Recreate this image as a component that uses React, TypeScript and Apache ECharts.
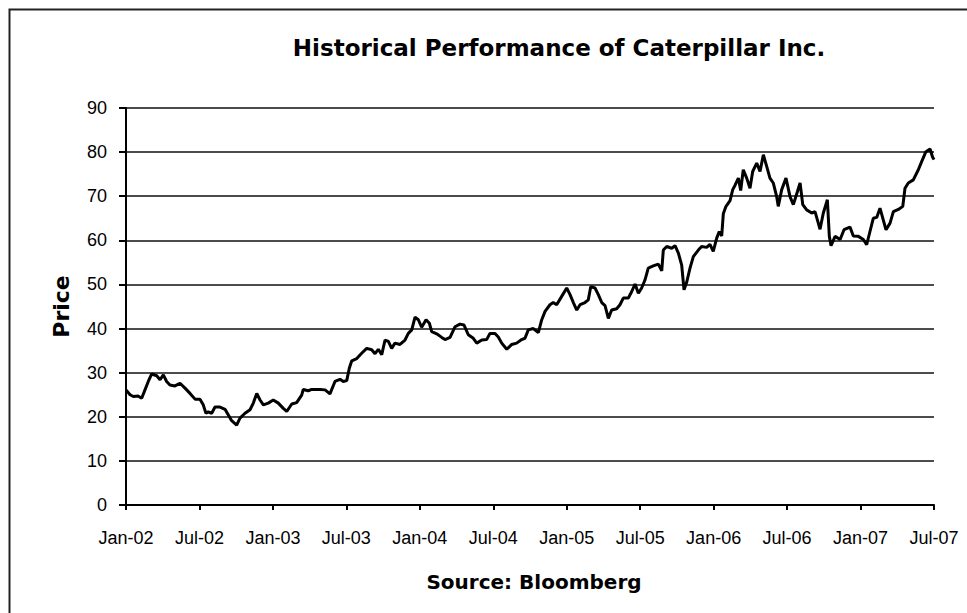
import React, { useEffect, useRef } from "react";
import * as echarts from "echarts";

// x = months since Jan-02, y = price
const months = [
  0.0, 0.33, 0.6, 0.98, 1.28, 1.55, 1.82, 2.1, 2.51, 2.78, 3.05, 3.32, 3.59, 4.0, 4.41, 4.82, 5.23, 5.64,
  6.04, 6.31, 6.53, 6.72, 7.0, 7.27, 7.68, 8.09, 8.36, 8.63, 9.04, 9.31, 9.72, 10.13, 10.4, 10.68, 10.95,
  11.22, 11.62, 12.03, 12.44, 12.85, 13.13, 13.54, 13.94, 14.35, 14.48, 14.89, 15.17, 15.85, 16.26,
  16.66, 17.07, 17.48, 17.75, 18.03, 18.24, 18.44, 18.85, 19.25, 19.66, 20.07, 20.34, 20.61, 20.89,
  21.16, 21.43, 21.7, 21.97, 22.38, 22.79, 23.06, 23.34, 23.61, 23.88, 24.15, 24.51, 24.78, 24.97,
  25.38, 25.79, 26.06, 26.47, 26.87, 27.28, 27.61, 27.96, 28.37, 28.65, 29.06, 29.46, 29.73, 30.14,
  30.41, 30.69, 31.1, 31.51, 31.91, 32.32,
  32.59, 32.86, 33.27, 33.68, 33.96, 34.23, 34.63, 34.9, 35.18, 35.59, 36.0, 36.27, 36.54, 36.82,
  37.09, 37.49, 37.76, 37.96, 38.31, 38.58, 38.86, 39.13, 39.4, 39.67, 40.08, 40.35, 40.62, 41.03,
  41.31, 41.58, 41.85, 42.12, 42.39, 42.66, 43.07, 43.48, 43.76, 43.89, 44.17, 44.58, 44.85, 45.12,
  45.39, 45.58, 45.8, 46.07, 46.34, 46.75, 47.02, 47.43, 47.7, 47.97, 48.25, 48.46, 48.66, 48.79,
  49.01, 49.34,
  49.56, 49.75, 50.02, 50.21, 50.42, 50.7, 50.97, 51.19, 51.52, 51.79, 52.06, 52.34, 52.6, 52.87,
  53.15, 53.28, 53.56, 53.91, 54.24, 54.51, 54.84, 55.06, 55.28, 55.6, 56.01, 56.28, 56.55, 56.69,
  56.96, 57.29, 57.45, 57.59, 57.92, 58.33, 58.65, 59.14, 59.41, 59.82, 60.23, 60.5, 60.77, 61.04,
  61.32, 61.59, 61.86, 62.08, 62.41, 62.68, 63.09, 63.45, 63.63, 63.9, 64.31, 64.72, 65.0, 65.34,
  65.68, 65.88, 66.0,
];

const prices = [
  26.1, 25.0, 24.6, 24.7, 24.2, 26.1, 28.0, 29.7, 29.3, 28.4, 29.5, 28.0, 27.2, 27.0, 27.6, 26.5, 25.3, 24.0,
  24.0, 22.7, 20.8, 21.1, 20.8, 22.2, 22.2, 21.7, 20.4, 19.1, 18.1, 19.7, 20.8, 21.6, 23.1, 25.3, 23.8,
  22.7, 23.1, 23.8, 23.1, 21.9, 21.2, 22.9, 23.2, 24.9, 26.2, 25.9, 26.2, 26.2, 26.1,
  25.2, 28.0, 28.5, 28.0, 28.2, 31.0, 32.7, 33.2, 34.4, 35.5, 35.2, 34.3, 35.3, 34.1,
  37.4, 37.1, 35.5, 36.7, 36.4, 37.4, 38.9, 39.7, 42.6, 42.0, 40.3, 42.0, 41.2, 39.3,
  38.8, 38.0, 37.5, 38.0, 40.4, 41.0, 40.8, 38.6, 37.8, 36.7, 37.4, 37.5, 38.9, 38.9,
  38.1, 36.7, 35.3, 36.4, 36.7, 37.5,
  37.8, 39.7, 40.0, 39.1, 42.0, 43.9, 45.4, 45.9, 45.4, 47.3, 49.2, 47.7, 45.9, 44.2,
  45.4, 45.9, 46.5, 49.5, 49.2, 47.7, 45.9, 45.2, 42.3, 44.2, 44.5, 45.4, 46.9, 46.9,
  48.4, 50.1, 48.0, 49.2, 51.0, 53.7, 54.2, 54.6, 53.1, 57.8, 58.6, 58.2, 58.8, 57.1,
  54.4, 48.8, 50.5, 53.7, 56.3, 57.8, 58.6, 58.4, 59.1, 57.5, 60.5, 62.0, 61.0, 66.0,
  67.7, 69.0,
  71.5, 72.5, 74.1, 71.3, 76.0, 74.1, 71.8, 75.6, 77.5, 75.6, 79.4, 76.7, 74.1, 73.0,
  69.9, 67.7, 71.5, 74.1, 69.9, 68.1, 71.0, 73.0, 68.1, 66.9, 66.2, 66.5, 63.9, 62.5,
  66.2, 69.2, 60.9, 58.8, 60.9, 60.2, 62.4, 63.0, 61.0, 60.9, 60.2, 59.0, 62.0, 65.0,
  65.2, 67.3, 64.6, 62.4, 63.9, 66.5, 67.0, 67.7, 71.8, 73.0, 73.7, 76.0, 77.9, 80.1,
  80.7, 78.9, 78.3,
];

const xTickLabels = [
  "Jan-02", "Jul-02", "Jan-03", "Jul-03", "Jan-04", "Jul-04",
  "Jan-05", "Jul-05", "Jan-06", "Jul-06", "Jan-07", "Jul-07",
];

const TITLE = "Historical Performance of Caterpillar Inc.";
const Y_NAME = "Price";
const SOURCE = "Source: Bloomberg";

export default function App() {
  const ref = useRef<HTMLDivElement>(null);

  useEffect(() => {
    document.body.style.margin = "0";
    if (!ref.current) return;
    const chart = echarts.init(ref.current, null, { renderer: "svg" });
    const data = months.map((m, i) => [m, prices[i]]);
    const labelFont = "'Liberation Sans', Arial, sans-serif";
    const boldFont = "'DejaVu Sans', sans-serif";
    chart.setOption({
      animation: false,
      backgroundColor: "#ffffff",
      title: [
        {
          text: TITLE,
          left: 554,
          top: 31,
          textAlign: "center",
          textStyle: { fontFamily: boldFont, fontWeight: "bold", fontSize: 23, color: "#000" },
        },
        {
          text: SOURCE,
          left: 529,
          top: 567,
          textAlign: "center",
          textStyle: { fontFamily: boldFont, fontWeight: "bold", fontSize: 20, color: "#000" },
        },
      ],
      graphic: [
        {
          type: "rect",
          shape: { x: 9.5, y: 9.5, width: 1000, height: 700 },
          style: { fill: "none", stroke: "#222", lineWidth: 2 },
          silent: true,
          z: -1,
        },
      ],
      grid: { left: 126, right: 33, top: 108, bottom: 108, containLabel: false },
      xAxis: {
        type: "value",
        min: 0,
        max: 66,
        interval: 6,
        axisLine: { show: true, onZero: false, lineStyle: { color: "#000", width: 2 } },
        axisTick: { show: true, length: 5, lineStyle: { color: "#000", width: 2 } },
        splitLine: { show: false },
        axisLabel: {
          margin: 24,
          fontFamily: labelFont,
          fontSize: 18,
          color: "#000",
          showMinLabel: true,
          showMaxLabel: true,
          formatter: (v: number) => xTickLabels[Math.round(v / 6)] ?? "",
        },
      },
      yAxis: {
        type: "value",
        min: 0,
        max: 90,
        interval: 10,
        name: Y_NAME,
        nameLocation: "middle",
        nameGap: 54,
        nameRotate: 90,
        nameTextStyle: { fontFamily: boldFont, fontWeight: "bold", fontSize: 22, color: "#000" },
        axisLine: { show: true, lineStyle: { color: "#000", width: 2 } },
        axisTick: { show: true, length: 7, lineStyle: { color: "#000", width: 2 } },
        splitLine: { show: true, lineStyle: { color: "#111", width: 1.6 } },
        axisLabel: { margin: 19, fontFamily: labelFont, fontSize: 18, color: "#000" },
      },
      series: [
        {
          type: "line",
          data,
          showSymbol: false,
          symbol: "none",
          lineStyle: { color: "#000", width: 3 },
          z: 3,
        },
      ],
    });
    return () => chart.dispose();
  }, []);

  return <div ref={ref} style={{ width: 967, height: 613 }} />;
}
